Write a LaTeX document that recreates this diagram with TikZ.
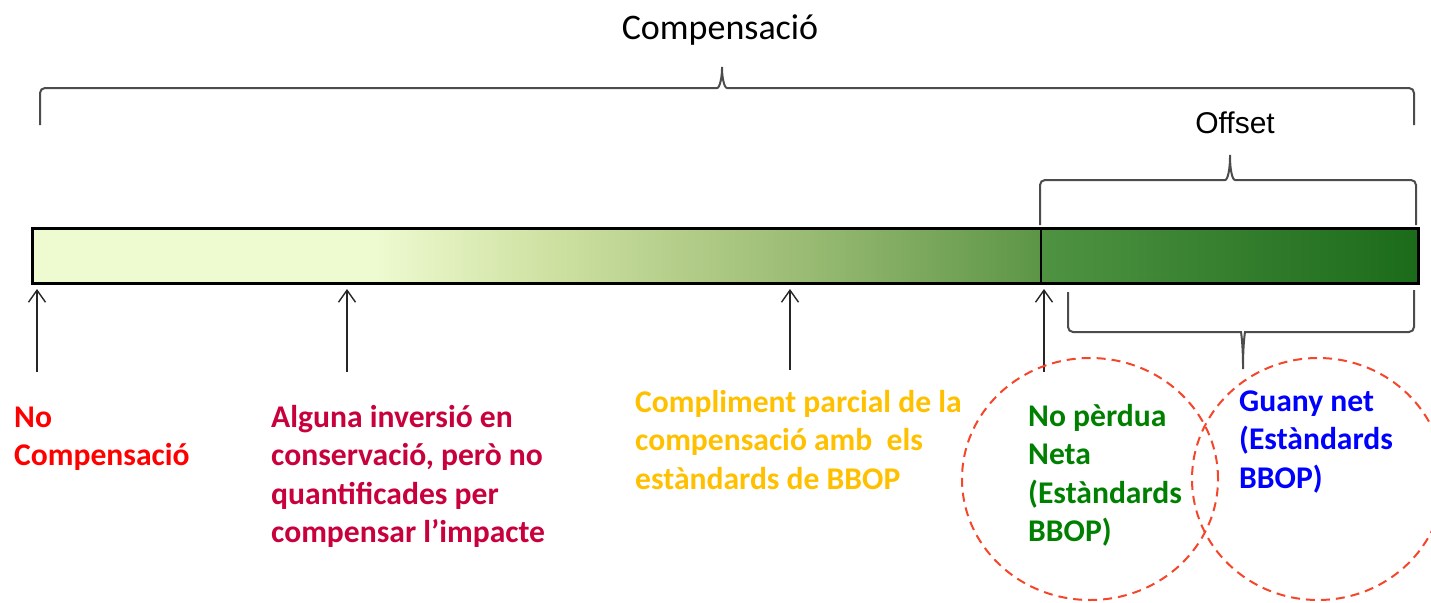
\documentclass[tikz,border=0pt]{standalone}
\usepackage{fontspec}
\setmainfont{Carlito}
\newfontfamily\offsetfont{Liberation Sans}
\usetikzlibrary{positioning,arrows.meta,shapes.geometric}

\definecolor{barA}{HTML}{EEFAD0}
\definecolor{barB}{HTML}{CDE0A0}
\definecolor{barC}{HTML}{9BBC74}
\definecolor{barD}{HTML}{5C9546}
\definecolor{barE}{HTML}{4F9342}
\definecolor{barF}{HTML}{1B6B1B}
\definecolor{noComp}{HTML}{FF0000}
\definecolor{someComp}{HTML}{C8003C}
\definecolor{partComp}{HTML}{FFC000}
\definecolor{noLoss}{HTML}{008000}
\definecolor{netGain}{HTML}{0000FF}
\definecolor{ringRed}{HTML}{F5452A}

\pgfdeclarehorizontalshading{barleft}{100bp}{color(0bp)=(barA); color(25bp)=(barA);
  color(42bp)=(barA); color(51bp)=(barB); color(63bp)=(barC); color(75bp)=(barD); color(100bp)=(barD)}

\begin{document}
\begin{tikzpicture}[x=1pt,y=-1pt]
    \tikzset{
        label/.style = {align=left, anchor=base west, inner sep=0pt, font=\bfseries\fontsize{31.6}{38.5}\selectfont},
        bracket/.style = {draw=black!70, line width=2pt, rounded corners=5pt},
        arrow/.style = {draw=black!85, line width=1.4pt, -{Straight Barb[length=12pt,width=17pt,line width=1.4pt]}, shorten >=6pt},
        ring/.style = {ellipse, draw=ringRed, line width=2pt, dash pattern=on 9pt off 6pt, inner sep=0pt},
        barpart/.style = {rectangle, inner sep=0pt, outer sep=0pt, minimum height=55pt},
    }
    \useasboundingbox (0,0) rectangle (1431,602);

    % titles
    \node (title) at (720,30) {\fontsize{36}{40}\selectfont Compensació};
    \node (offset) at (1235,123) {\offsetfont\fontsize{30}{34}\selectfont Offset};

    % braces
    \draw[bracket] (40,125) |- (712,88) .. controls (720,88) and (722,76) .. (722,64)
        .. controls (722,76) and (724,88) .. (732,88) -| (1414,125);
    \draw[bracket] (1040,225) |- (1220,180) .. controls (1228,180) and (1230,168) .. (1230,152)
        .. controls (1230,168) and (1232,180) .. (1240,180) -| (1416,225);

    % bar
    \node[barpart, shading=barleft, minimum width=1009pt, anchor=north west] (barL) at (32,228) {};
    \node[barpart, left color=barE, right color=barF, minimum width=377pt, right=0pt of barL] (barR) {};
    \draw[line width=3pt] (barL.north west) rectangle (barR.south east);
    \draw[line width=1.3pt] (barL.north east) -- (barL.south east);

    % arrows
    \coordinate (a1) at (37,372);
    \coordinate (a2) at (347,372);
    \coordinate (a3) at (790,370);
    \coordinate (a4) at (1044,372);
    \foreach \a in {a1,a2,a3,a4}
        \path[arrow] (\a) -- (\a |- barL.south);

    % lower brace
    \draw[bracket] (1068,292) |- (1236,332) .. controls (1241,332) and (1243,344) .. (1243,372)
        .. controls (1243,344) and (1245,332) .. (1250,332) -| (1414,290);

    % circles
    \node[ring, minimum width=256pt, minimum height=242pt] (ring1) at (1090,479) {};
    \node[ring, minimum width=252pt, minimum height=242pt] (ring2) at (1318,479) {};

    % labels (base = last line)
    \node[label, text=noComp] (none) at (14,465.5) {No\\Compensació};
    \node[label, text=someComp] (some) at (271,542.5) {Alguna inversió en\\conservació, però no\\quantificades per\\compensar l’impacte};
    \node[label, text=partComp] (partial) at (635,489) {Compliment parcial de la\\compensació amb\ \ els\\estàndards de BBOP};
    \node[label, text=noLoss] (noloss) at (1028,541.5) {No pèrdua\\Neta\\(Estàndards\\BBOP)};
    \node[label, text=netGain] (gain) at (1239,488) {Guany net\\(Estàndards\\BBOP)};

\end{tikzpicture}
\end{document}
